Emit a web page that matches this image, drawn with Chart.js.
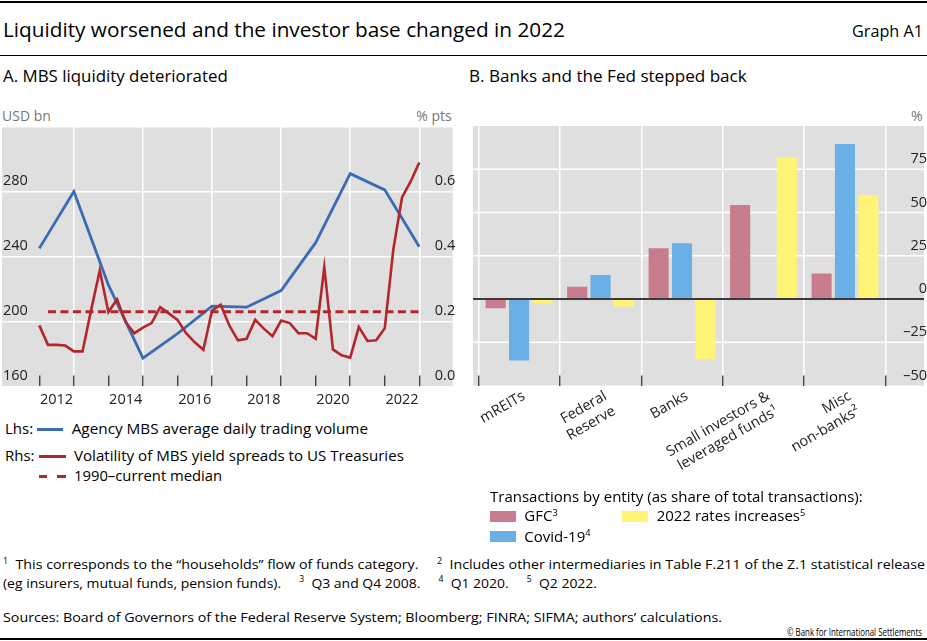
<!DOCTYPE html>
<html><head><meta charset="utf-8">
<script src="https://cdn.jsdelivr.net/npm/chart.js@4.4.1/dist/chart.umd.min.js"></script>
<style>
html,body{margin:0;padding:0;background:#fff;}
body{width:927px;height:641px;position:relative;overflow:hidden;font-family:'Open Sans',sans-serif;color:#000;}
.t{position:absolute;left:0;top:0;white-space:nowrap;line-height:1;}
.g{color:#777;}
.rule{position:absolute;left:0;width:927px;background:#000;}
canvas{position:absolute;}
sup{font-size:0.62em;vertical-align:0;position:relative;top:-0.6em;line-height:0;}
.ls{position:absolute;}
.box{position:absolute;}
</style></head><body>

<div class="rule" style="top:1px;height:1.5px"></div>
<div class="t" data-x="3" data-b="37.3" data-fs="20" data-w="562">Liquidity worsened and the investor base changed in 2022</div>
<div class="t" data-r="923" data-b="37.3" data-fs="16.2">Graph A1</div>
<div class="rule" style="top:54.5px;height:1.5px"></div>

<div class="t" data-x="3" data-b="82.3" data-fs="17" data-w="225">A. MBS liquidity deteriorated</div>
<div class="t" data-x="469" data-b="82.3" data-fs="17" data-w="278">B. Banks and the Fed stepped back</div>

<div class="t g" data-x="2" data-b="120.7" data-fs="14">USD bn</div>
<div class="t g" data-r="451.7" data-b="120.7" data-fs="14">% pts</div>
<div class="t g" data-r="922.7" data-b="120.7" data-fs="14">%</div>

<canvas id="cA" width="460" height="290" style="left:0;top:120px;width:460px;height:290px"></canvas>
<canvas id="cB" width="467" height="370" style="left:460px;top:120px;width:467px;height:370px"></canvas>

<!-- Panel A legend -->
<div class="t" data-x="5" data-b="433.7" data-fs="15">Lhs:</div>
<div class="ls" style="left:36.7px;top:428px;width:26.6px;height:2.8px;background:#3a6cb4"></div>
<div class="t" data-x="71.7" data-b="433.7" data-fs="15" data-w="296.6">Agency MBS average daily trading volume</div>
<div class="t" data-x="5" data-b="461.4" data-fs="15">Rhs:</div>
<div class="ls" style="left:39px;top:455.3px;width:26.7px;height:2.8px;background:#b3262c"></div>
<div class="t" data-x="74" data-b="461.4" data-fs="15" data-w="330">Volatility of MBS yield spreads to US Treasuries</div>
<div class="ls" style="left:39px;top:475.3px;width:8px;height:2.8px;background:#b3262c"></div>
<div class="ls" style="left:56.7px;top:475.3px;width:9px;height:2.8px;background:#b3262c"></div>
<div class="t" data-x="74" data-b="481.4" data-fs="15" data-w="148.3">1990–current median</div>

<!-- Panel B legend -->
<div class="t" data-x="490" data-b="502" data-fs="15" data-w="373">Transactions by entity (as share of total transactions):</div>
<div class="box" style="left:490px;top:510.7px;width:26px;height:11.3px;background:#c77d8e"></div>
<div class="t" data-x="524.3" data-b="521.4" data-fs="15">GFC<sup>3</sup></div>
<div class="box" style="left:621.7px;top:510.7px;width:26px;height:11.3px;background:#fff475"></div>
<div class="t" data-x="656.7" data-b="521.4" data-fs="15">2022 rates increases<sup>5</sup></div>
<div class="box" style="left:490px;top:531.3px;width:26px;height:10.7px;background:#6aafe6"></div>
<div class="t" data-x="524.3" data-b="542" data-fs="15">Covid-19<sup>4</sup></div>

<!-- Footnotes -->
<div class="t" data-x="3" data-b="569" data-fs="13.5" data-w="922" data-fit="sx"><sup>1</sup>&nbsp; This corresponds to the “households” flow of funds category.&nbsp;&nbsp;&nbsp;&nbsp; <sup>2</sup>&nbsp; Includes other intermediaries in Table F.211 of the Z.1 statistical release</div>
<div class="t" data-x="3" data-b="587.5" data-fs="13.5" data-w="594" data-fit="sx">(eg insurers, mutual funds, pension funds).&nbsp;&nbsp;&nbsp;&nbsp; <sup>3</sup>&nbsp; Q3 and Q4 2008.&nbsp;&nbsp;&nbsp;&nbsp; <sup>4</sup>&nbsp; Q1 2020.&nbsp;&nbsp;&nbsp;&nbsp; <sup>5</sup>&nbsp; Q2 2022.</div>
<div class="t" data-x="3" data-b="621.5" data-fs="13.5" data-w="719" data-fit="sx">Sources: Board of Governors of the Federal Reserve System; Bloomberg; FINRA; SIFMA; authors’ calculations.</div>
<div class="t" data-r="922" data-b="636" data-fs="11.5" data-w="135" data-fit="sx">© Bank for International Settlements</div>
<div class="rule" style="top:638px;height:1.5px"></div>

<script>
// ---------- Panel A data ----------
const mbsYears = [2012, 2013, 2014, 2015, 2016, 2017, 2018, 2019, 2020, 2021, 2022, 2023];
const mbsVolume = [245, 280, 222.5, 177.5, 192.5, 209.5, 208.8, 219, 248.5, 291, 281, 246];
const spreadStart = 2012; // first quarterly observation
const spreadVol = [0.188, 0.128, 0.128, 0.126, 0.108, 0.108, 0.235, 0.357, 0.229, 0.268,
                   0.198, 0.164, 0.181, 0.195, 0.244, 0.225, 0.205, 0.164, 0.136, 0.113,
                   0.234, 0.252, 0.188, 0.142, 0.147, 0.205, 0.178, 0.155, 0.203, 0.195,
                   0.164, 0.164, 0.147, 0.367, 0.114, 0.096, 0.089, 0.183, 0.140, 0.142,
                   0.179, 0.423, 0.582, 0.631, 0.689];
const medianValue = 0.23;
const medianRange = [2012.25, 2023];
const xTickYears = [2012, 2013, 2014, 2015, 2016, 2017, 2018, 2019, 2020, 2021, 2022, 2023];
const lhsTicks = [160, 200, 240, 280, 320];
const rhsTicks = [0, 0.2, 0.4, 0.6, 0.8];

// ---------- Panel B data ----------
const entities = ['mREITs', ['Federal', 'Reserve'], 'Banks', ['Small investors &', 'leveraged funds¹'], ['Misc', 'non-banks²']];
const gfc = [-5.4, 7.1, 29.3, 54.3, 14.8];
const covid = [-35.6, 13.9, 32.2, 0, 89.6];
const rates2022 = [-2.5, -4.4, -34.9, 81.9, 59.9];
const pctTicks = [-50, -25, 0, 25, 50, 75, 100];

// ---------- text placement ----------
function placeText(){
  document.querySelectorAll('.t').forEach(el=>{
    const fs = parseFloat(el.dataset.fs);
    el.style.fontSize = fs + 'px';
    let w = el.getBoundingClientRect().width;
    let sx = 1;
    if (el.dataset.w) {
      const tw = parseFloat(el.dataset.w);
      if (el.dataset.fit === 'sx') sx = tw / w;
      else { el.style.fontSize = (fs * tw / w) + 'px'; w = el.getBoundingClientRect().width; }
    }
    const m = document.createElement('span');
    m.style.cssText = 'display:inline-block;width:0;height:0;vertical-align:baseline;';
    el.appendChild(m);
    const base = m.getBoundingClientRect().top - el.getBoundingClientRect().top;
    el.removeChild(m);
    el.style.top = (parseFloat(el.dataset.b) - base) + 'px';
    if (el.dataset.r) el.style.left = (parseFloat(el.dataset.r) - w * sx) + 'px';
    else el.style.left = el.dataset.x + 'px';
    if (sx !== 1) { el.style.transformOrigin = 'left top'; el.style.transform = 'scaleX(' + sx + ')'; }
  });
}
placeText();

const FONT = {family: "'Open Sans', sans-serif", size: 14.5};
function noPad(s){ s.paddingLeft = 0; s.paddingRight = 0; s.paddingTop = 0; s.paddingBottom = 0; }

// ---------- Panel A ----------
const bgA = {
  id: 'bgA',
  beforeDraw(c){
    const {ctx, chartArea: a} = c;
    ctx.save(); ctx.fillStyle = '#dfdfdf';
    ctx.fillRect(a.left, a.top, a.right - a.left, a.bottom - a.top);
    ctx.restore();
  }
};

new Chart(document.getElementById('cA'), {
  type: 'line',
  data: {
    datasets: [
      {data: spreadVol.map((y, i) => ({x: spreadStart + i * 0.25, y})), yAxisID: 'yR',
       borderColor: '#b3262c', borderWidth: 2.6, pointRadius: 0, tension: 0, fill: false},
      {data: medianRange.map(x => ({x, y: medianValue})), yAxisID: 'yR',
       borderColor: '#b3262c', borderWidth: 3, borderDash: [8, 4.5], pointRadius: 0, fill: false},
      {data: mbsYears.map((x, i) => ({x, y: mbsVolume[i]})), yAxisID: 'yL',
       borderColor: '#3a6cb4', borderWidth: 2.8, pointRadius: 0, tension: 0, fill: false}
    ]
  },
  options: {
    responsive: false, animation: false, maintainAspectRatio: false,
    layout: {padding: {left: 2, right: 7.3, top: 6.5, bottom: 0}},
    plugins: {legend: {display: false}, tooltip: {enabled: false}},
    scales: {
      x: {
        type: 'linear', min: 2010.92, max: 2023.967,
        afterBuildTicks: s => { s.ticks = xTickYears.map(v => ({value: v})); },
        afterFit: s => { s.height = 23.5; noPad(s); },
        border: {display: false},
        grid: {
          color: c => (c.tick && c.tick.value % 2 === 1) ? '#ffffff' : 'rgba(0,0,0,0)',
          lineWidth: 1.5, drawTicks: true, tickLength: -11, tickColor: '#333', tickWidth: 1.3
        },
        ticks: {
          callback: v => (v % 2 === 0 ? String(v) : ''),
          autoSkip: false, maxRotation: 0, minRotation: 0,
          labelOffset: 17.27, padding: 15.8, font: FONT, color: '#222'
        }
      },
      yL: {
        type: 'linear', position: 'left', min: 160, max: 320,
        afterBuildTicks: s => { s.ticks = lhsTicks.map(v => ({value: v})); },
        afterFit: s => { s.width = 0; noPad(s); },
        border: {display: false},
        grid: {color: '#ffffff', lineWidth: 1.5, drawTicks: false},
        ticks: {mirror: true, padding: 1, labelOffset: -10.5, font: FONT, color: '#222',
                callback: v => (v >= 320 ? '' : String(v))}
      },
      yR: {
        type: 'linear', position: 'right', min: 0, max: 0.8,
        afterBuildTicks: s => { s.ticks = rhsTicks.map(v => ({value: v})); },
        afterFit: s => { s.width = 0; noPad(s); },
        border: {display: false},
        grid: {display: false, drawTicks: false},
        ticks: {mirror: true, padding: 2.5, labelOffset: -10.5, font: FONT, color: '#222',
                callback: v => (v >= 0.79 ? '' : v.toFixed(1))}
      }
    }
  },
  plugins: [bgA]
});

// ---------- Panel B ----------
const EXT_L = 5.3, EXT_R = 38.3;
const bgB = {
  id: 'bgB',
  beforeDraw(c){
    const {ctx, chartArea: a} = c; const y = c.scales.y;
    const L = a.left - EXT_L, R = a.right + EXT_R;
    ctx.save();
    ctx.fillStyle = '#dfdfdf';
    ctx.fillRect(L, a.top, R - L, a.bottom - a.top);
    ctx.strokeStyle = '#ffffff'; ctx.lineWidth = 1.5;
    y.ticks.forEach(t => {
      if (t.value === 0 || t.value === y.min || t.value === y.max) return;
      const py = y.getPixelForValue(t.value);
      ctx.beginPath(); ctx.moveTo(L, py); ctx.lineTo(R, py); ctx.stroke();
    });
    ctx.restore();
  },
  afterDatasetsDraw(c){
    const {ctx, chartArea: a} = c; const y = c.scales.y;
    const py = y.getPixelForValue(0);
    ctx.save(); ctx.strokeStyle = '#3a3a3a'; ctx.lineWidth = 2;
    ctx.beginPath(); ctx.moveTo(a.left - EXT_L, py); ctx.lineTo(a.right + EXT_R, py); ctx.stroke();
    ctx.restore();
  }
};

new Chart(document.getElementById('cB'), {
  type: 'bar',
  data: {
    labels: entities,
    datasets: [
      {label: 'GFC', data: gfc, backgroundColor: '#c77d8e'},
      {label: 'Covid-19', data: covid, backgroundColor: '#6aafe6'},
      {label: '2022 rates increases', data: rates2022, backgroundColor: '#fff475'}
    ]
  },
  options: {
    responsive: false, animation: false, maintainAspectRatio: false,
    categoryPercentage: 0.86, barPercentage: 0.86,
    layout: {padding: {left: 18.3, right: 0, top: 6, bottom: 0}},
    plugins: {legend: {display: false}, tooltip: {enabled: false}},
    scales: {
      x: {
        afterFit: s => { s.height = 104.5; noPad(s); },
        border: {display: false},
        grid: {offset: true, color: '#ffffff', lineWidth: 1.5, drawTicks: true, tickLength: -10, tickColor: '#333', tickWidth: 1.3},
        ticks: {minRotation: 30, maxRotation: 30, autoSkip: false, padding: 12, labelOffset: 5, font: FONT, color: '#222'}
      },
      y: {
        position: 'right', min: -50, max: 100,
        afterBuildTicks: s => { s.ticks = pctTicks.map(v => ({value: v})); },
        afterFit: s => { s.width = 41.3; noPad(s); },
        border: {display: false},
        grid: {display: false, drawTicks: false},
        ticks: {crossAlign: 'far', padding: 12, labelOffset: -10, font: FONT, color: '#222',
                callback: v => (v >= 100 ? '' : (v < 0 ? '–' + Math.abs(v) : String(v)))}
      }
    }
  },
  plugins: [bgB]
});
</script>
</body></html>
